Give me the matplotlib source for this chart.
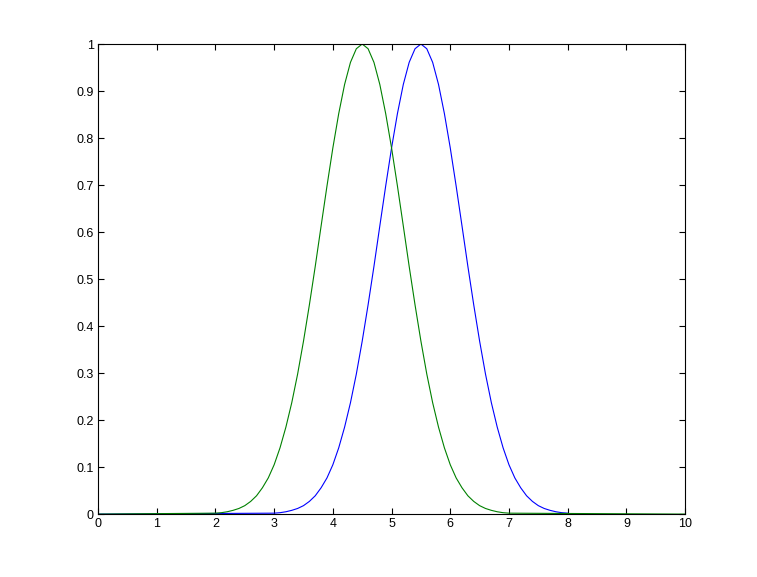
import numpy as np
import matplotlib.pyplot as plt

bump = [0.002, 0.003, 0.005, 0.008, 0.012, 0.018, 0.027, 0.039, 0.056, 0.077,
        0.105, 0.141, 0.185, 0.237, 0.298, 0.368, 0.445, 0.527, 0.613, 0.698,
        0.779, 0.852, 0.914, 0.961, 0.990, 1.000, 0.990, 0.961, 0.914, 0.852,
        0.779, 0.698, 0.613, 0.527, 0.445, 0.368, 0.298, 0.237, 0.185, 0.141,
        0.105, 0.077, 0.056, 0.039, 0.027, 0.018, 0.012, 0.008, 0.005, 0.003,
        0.002]

# Blue: flat from 0, bump on [3, 8]
blue_x = [0.0] + list(np.round(np.linspace(3, 8, 51), 2))
blue_y = [0.0] + bump
# Green: flat from 0, bump on [2, 7], flat to 10
green_x = [0.0] + list(np.round(np.linspace(2, 7, 51), 2)) + [10.0]
green_y = [0.0] + bump + [0.0]

xticks = list(range(0, 11))
yticks = [0, 0.1, 0.2, 0.3, 0.4, 0.5, 0.6, 0.7, 0.8, 0.9, 1]
ylabels = ['0', '0.1', '0.2', '0.3', '0.4', '0.5', '0.6', '0.7', '0.8', '0.9', '1']

plt.rcParams['font.family'] = ['Liberation Sans', 'DejaVu Sans']

fig = plt.figure(figsize=(7.57, 5.77), dpi=100)
ax = fig.add_axes([0.1295, 0.109, 0.7755, 0.8147])

ax.plot(blue_x, blue_y, color=(0, 0, 1), lw=0.8)
ax.plot(green_x, green_y, color=(0, 0.5, 0), lw=0.8)

ax.set_xlim(0, 10)
ax.set_ylim(0, 1)
ax.set_xticks(xticks)
ax.set_yticks(yticks)
ax.set_yticklabels(ylabels)
ax.tick_params(direction='in', top=True, right=True, length=4, width=0.8,
               labelsize=9, pad=3)
for s in ax.spines.values():
    s.set_linewidth(0.8)

fig.savefig('out.png', dpi=100)
